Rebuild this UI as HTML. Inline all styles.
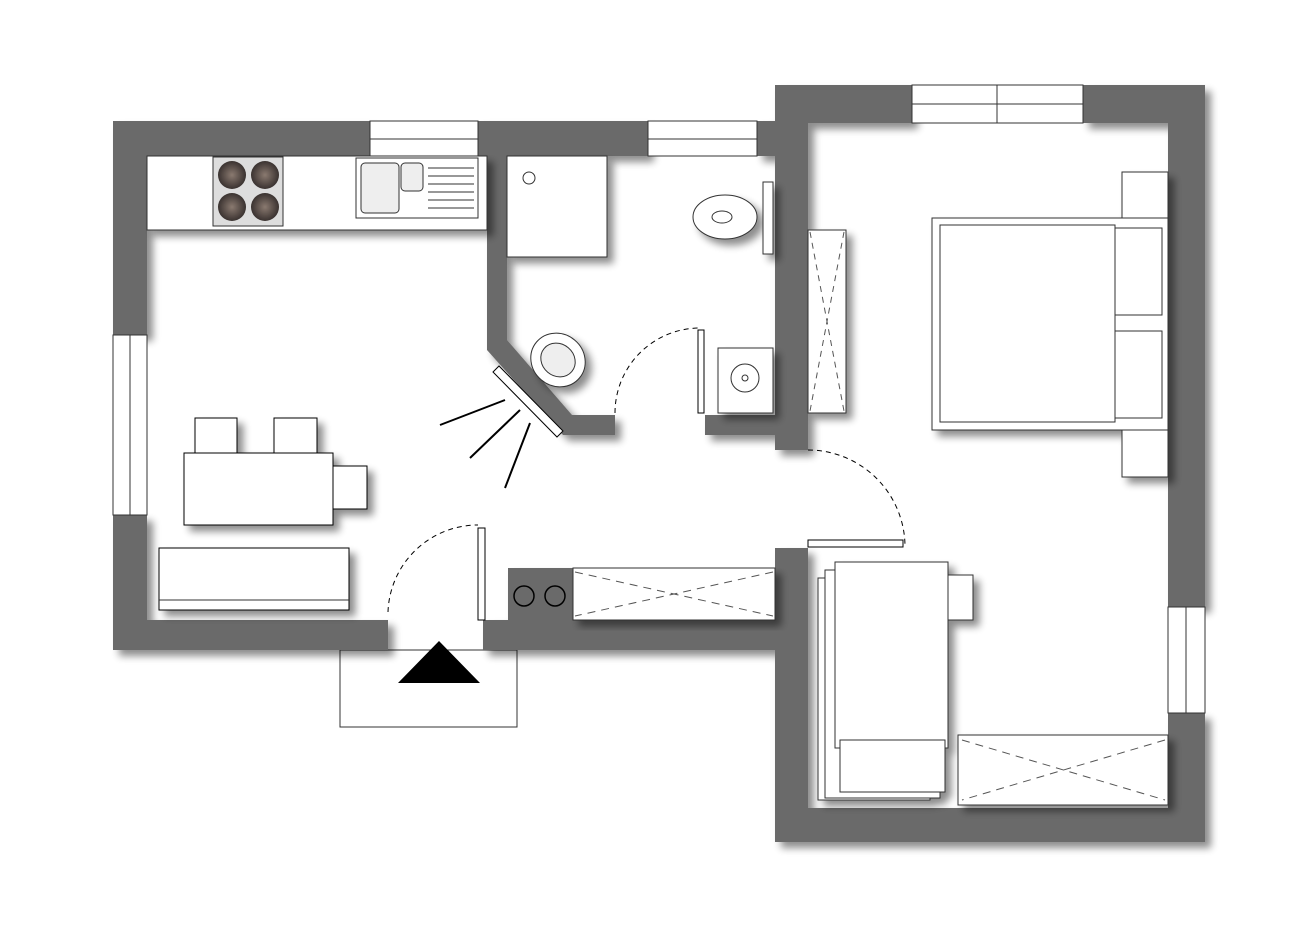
<!DOCTYPE html>
<html><head><meta charset="utf-8"><style>html,body{margin:0;padding:0;background:#fff}svg{display:block}</style></head>
<body>
<svg width="1306" height="936" viewBox="0 0 1306 936" xmlns="http://www.w3.org/2000/svg">
<defs>
<filter id="sh" x="-10%" y="-10%" width="130%" height="130%"><feGaussianBlur in="SourceAlpha" stdDeviation="4"/><feOffset dx="6" dy="6"/><feComponentTransfer><feFuncA type="linear" slope="0.45"/></feComponentTransfer><feMerge><feMergeNode/><feMergeNode in="SourceGraphic"/></feMerge></filter>
<radialGradient id="bu"><stop offset="0" stop-color="#8a7a70"/><stop offset="1" stop-color="#3a3230"/></radialGradient>
</defs>
<rect width="1306" height="936" fill="#fff"/>
<!-- entrance -->
<rect x="340" y="650" width="177" height="77" fill="none" stroke="#333" stroke-width="1"/>
<polygon points="398,683 480,683 439,641" fill="#000"/>
<!-- walls -->
<g fill="#6b6b6b" filter="url(#sh)">
<rect x="113" y="121" width="257" height="35"/>
<rect x="478" y="121" width="170" height="35"/>
<rect x="757" y="121" width="50" height="35"/>
<rect x="113" y="121" width="34" height="214"/>
<rect x="113" y="515" width="34" height="135"/>
<rect x="113" y="620" width="275" height="30"/>
<rect x="483" y="620" width="325" height="30"/>
<rect x="775" y="85" width="137" height="38"/>
<rect x="1083" y="85" width="122" height="38"/>
<rect x="775" y="85" width="33" height="365"/>
<rect x="1168" y="85" width="37" height="522"/>
<rect x="1168" y="713" width="37" height="129"/>
<rect x="775" y="548" width="33" height="294"/>
<rect x="775" y="808" width="430" height="34"/>
<polygon points="487,156 507,156 507,340 572,415 615,415 615,435 563,435 487,350"/>
<rect x="705" y="415" width="70" height="20"/>
<rect x="508" y="568" width="65" height="52"/>
</g>
<!-- windows -->
<g fill="#fff" stroke="#333" stroke-width="1">
<rect x="370" y="121" width="108" height="35"/><line x1="370" y1="139" x2="478" y2="139"/>
<rect x="648" y="121" width="109" height="35"/><line x1="648" y1="139" x2="757" y2="139"/>
<rect x="912" y="85" width="171" height="38"/><line x1="912" y1="104" x2="1083" y2="104"/><line x1="997" y1="85" x2="997" y2="123"/>
<rect x="113" y="335" width="34" height="180"/><line x1="130" y1="335" x2="130" y2="515"/>
<rect x="1168" y="607" width="37" height="106"/><line x1="1186" y1="607" x2="1186" y2="713"/>
</g>
<!-- stove circles -->
<circle cx="524" cy="596" r="10" fill="none" stroke="#000" stroke-width="1.5"/>
<circle cx="555" cy="596" r="10" fill="none" stroke="#000" stroke-width="1.5"/>
<!-- kitchen counter -->
<g filter="url(#sh)">
<rect x="147" y="156" width="340" height="74" fill="#fff" stroke="#333"/>
<rect x="213" y="157" width="70" height="69" fill="#ddd" stroke="#333"/>
<circle cx="232" cy="175" r="14" fill="url(#bu)"/><circle cx="265" cy="175" r="14" fill="url(#bu)"/>
<circle cx="232" cy="207" r="14" fill="url(#bu)"/><circle cx="265" cy="207" r="14" fill="url(#bu)"/>
<rect x="356" y="158" width="122" height="60" fill="#fff" stroke="#333"/>
<rect x="361" y="163" width="38" height="50" rx="4" fill="#eee" stroke="#333"/>
<rect x="401" y="163" width="22" height="28" rx="4" fill="#eee" stroke="#333"/>
<g stroke="#333">
<line x1="428" y1="168" x2="474" y2="168"/><line x1="428" y1="176" x2="474" y2="176"/><line x1="428" y1="184" x2="474" y2="184"/><line x1="428" y1="192" x2="474" y2="192"/><line x1="428" y1="200" x2="474" y2="200"/><line x1="428" y1="208" x2="474" y2="208"/>
</g>
</g>
<!-- bathroom -->
<g filter="url(#sh)" stroke="#333" fill="#fff">
<rect x="507" y="156" width="100" height="101"/>
<circle cx="529" cy="178" r="6"/>
<ellipse cx="558" cy="360" rx="28" ry="26" transform="rotate(40 558 360)"/>
<ellipse cx="558" cy="360" rx="18" ry="16" transform="rotate(40 558 360)" fill="#eee"/>
<rect x="763" y="182" width="10" height="72"/>
<ellipse cx="725" cy="217" rx="32" ry="22"/>
<ellipse cx="722" cy="217" rx="10" ry="6"/>
<rect x="718" y="348" width="55" height="65"/>
<circle cx="745" cy="378" r="14"/><circle cx="745" cy="378" r="3"/>
<rect x="808" y="230" width="38" height="183"/>
</g>
<g stroke="#555" stroke-dasharray="6,5" fill="none"><line x1="810" y1="232" x2="844" y2="411"/><line x1="844" y1="232" x2="810" y2="411"/></g>
<!-- mirror & light -->
<polygon points="493,372 499,366 563,431 557,437" fill="#fff" stroke="#000"/>
<g stroke="#000" stroke-width="2"><line x1="440" y1="425" x2="505" y2="400"/><line x1="470" y1="458" x2="520" y2="410"/><line x1="505" y1="488" x2="530" y2="423"/></g>
<!-- doors -->
<g fill="none" stroke="#000" stroke-dasharray="5,4"><path d="M388,612 A90,90 0 0 1 478,525"/><path d="M615,413 A85,85 0 0 1 700,328"/><path d="M808,450 A97,97 0 0 1 905,545"/></g>
<g fill="#fff" stroke="#000"><rect x="478" y="528" width="7" height="92"/><rect x="698" y="330" width="6" height="83"/><rect x="808" y="540" width="95" height="7"/></g>
<!-- bedroom -->
<g filter="url(#sh)" stroke="#333" fill="#fff">
<rect x="1122" y="172" width="46" height="46"/><rect x="1122" y="430" width="46" height="47"/>
<rect x="932" y="218" width="236" height="212"/>
<rect x="1108" y="228" width="54" height="87"/><rect x="1108" y="331" width="54" height="87"/>
<rect x="940" y="225" width="175" height="197"/>
</g>
<!-- dining -->
<g filter="url(#sh)" stroke="#000" fill="#fff">
<rect x="195" y="418" width="42" height="35"/><rect x="274" y="418" width="43" height="35"/><rect x="333" y="466" width="34" height="43"/>
<rect x="184" y="453" width="149" height="72"/>
<rect x="159" y="548" width="190" height="62"/>
</g>
<line x1="159" y1="600" x2="349" y2="600" stroke="#333"/>
<!-- kitchen counter bottom -->
<rect x="573" y="568" width="202" height="52" fill="#fff" stroke="#333" filter="url(#sh)"/>
<g stroke="#555" stroke-dasharray="8,6"><line x1="575" y1="572" x2="773" y2="616"/><line x1="773" y1="572" x2="575" y2="616"/></g>
<!-- bottom right bed -->
<g filter="url(#sh)" stroke="#333" fill="#fff">
<rect x="818" y="578" width="112" height="222"/>
<rect x="825" y="570" width="115" height="228"/>
<rect x="948" y="575" width="25" height="45"/>
<rect x="835" y="562" width="113" height="186"/>
<rect x="840" y="740" width="105" height="52"/>
<rect x="958" y="735" width="210" height="70"/>
</g>
<g stroke="#555" stroke-dasharray="8,6"><line x1="962" y1="740" x2="1165" y2="800"/><line x1="1165" y1="740" x2="962" y2="800"/></g>
</svg>
</body></html>
